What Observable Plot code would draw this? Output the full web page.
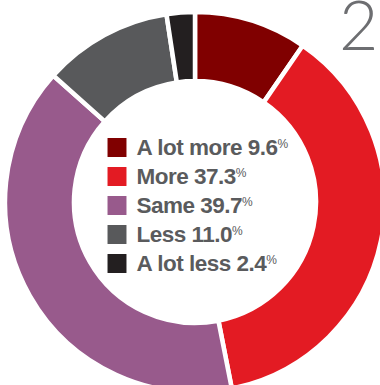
<!DOCTYPE html>
<html><head><meta charset="utf-8">
<script src="https://cdn.jsdelivr.net/npm/d3@7"></script>
<script src="https://cdn.jsdelivr.net/npm/@observablehq/plot@0.6"></script>
<style>body{margin:0;background:#fff} #chart svg{overflow:hidden;display:block}</style>
</head><body><div id="chart"></div>
<script>
const categories = ["A lot more", "More", "Same", "Less", "A lot less"];
const shares = [9.6, 37.3, 39.7, 11.0, 2.4];
const colors = ["#800000", "#e31b23", "#985a8c", "#58595b", "#231f20"];
const chartNumber = "2";

const rows = categories.map((c, i) => ({category: c, share: shares[i], label: `${c} ${shares[i].toFixed(1)}`}));

function donut(index, scales, values, dimensions) {
  const cx = 195, cy = 202;
  const pie = d3.pie().sort(null).value(d => d.share)(rows);
  const arc = d3.arc().innerRadius(121).outerRadius(190);
  const g = d3.create("svg:g").attr("transform", `translate(${cx},${cy})`);
  g.selectAll("path").data(pie).join("path")
    .attr("d", arc)
    .attr("fill", (d, i) => scales.color ? scales.color(d.data.category) : colors[i])
    .attr("stroke", "#fff")
    .attr("stroke-width", 4.5);
  return g.node();
}

const chart = Plot.plot({
  width: 380, height: 385, margin: 0,
  x: {type: "identity", axis: null},
  y: {type: "point", domain: categories, range: [145.5, 263.5], padding: 0, axis: null},
  color: {domain: categories, range: colors},
  marks: [
    donut,
    Plot.dot(rows, {x: 116.5, y: "category", fill: "category", symbol: "square", r: 10.7, stroke: null}),
    Plot.text(rows, {x: 136, y: "category", text: "label", textAnchor: "start", fontSize: 22.5, fontWeight: "bold", fill: "#5a5b5d", fontFamily: "Liberation Sans, Arial, sans-serif"}),
    Plot.text([chartNumber], {frameAnchor: "top-right", text: d => d, fontSize: 68, fontWeight: 300, fill: "#6d6e71", lineAnchor: "top", dx: -2, dy: 1, fontFamily: "Lato, Roboto, sans-serif"})
  ]
});
document.getElementById("chart").appendChild(chart);

const labels = new Set(rows.map(d => d.label));
d3.select(chart).selectAll("text").each(function() {
  if (labels.has(this.textContent)) {
    this.setAttribute("letter-spacing", "-0.5");
    d3.select(this).append("tspan").attr("dy", -7).attr("font-size", 12).attr("font-weight", "normal").attr("letter-spacing", 0).text("%");
  }
});
</script></body></html>
